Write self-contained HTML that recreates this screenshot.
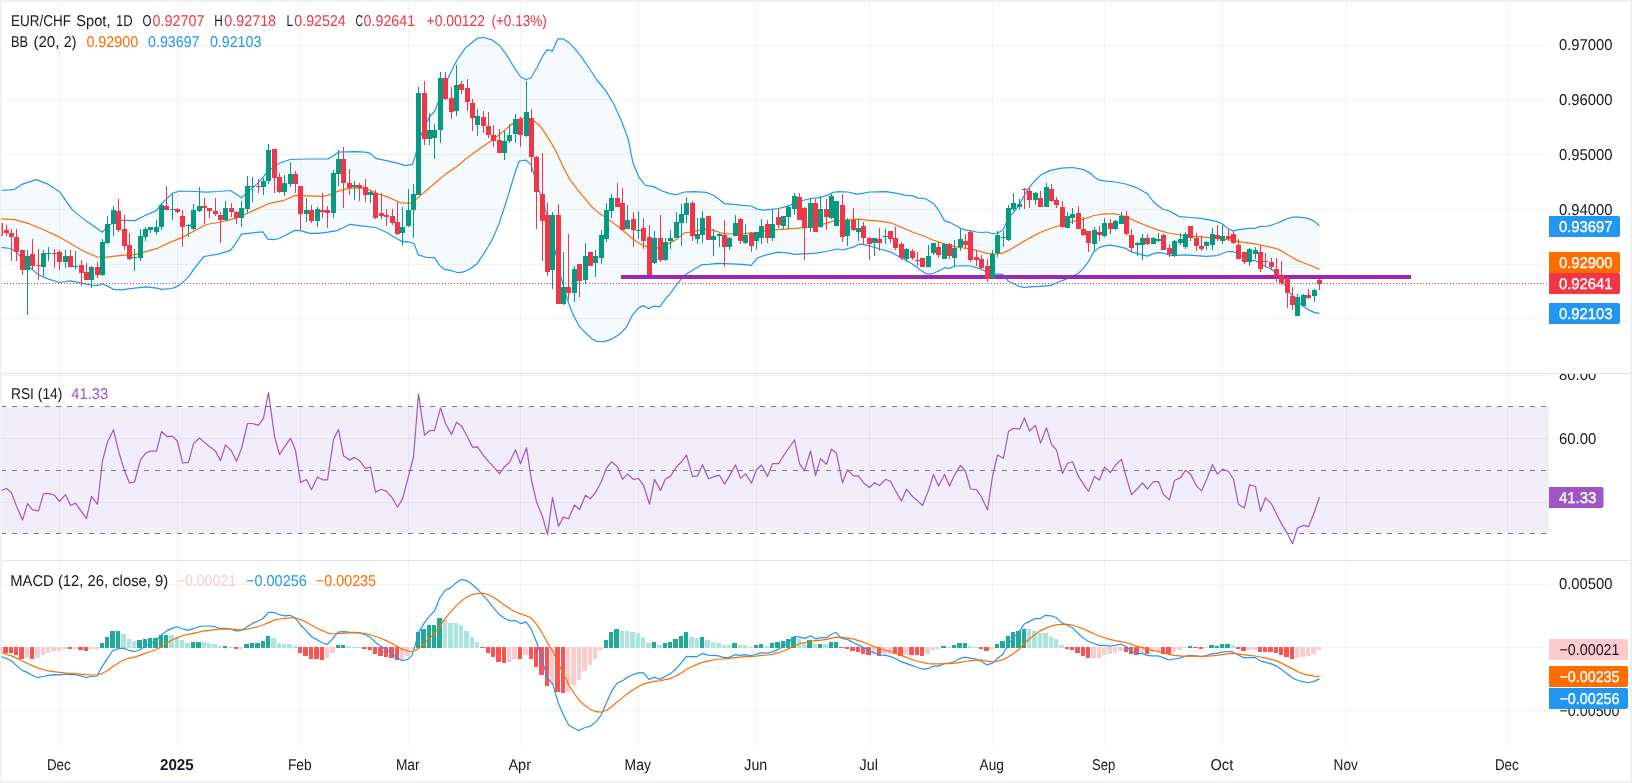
<!DOCTYPE html>
<html><head><meta charset="utf-8"><title>EUR/CHF Spot 1D</title>
<style>html,body{margin:0;padding:0;background:#fff;width:1632px;height:783px;overflow:hidden}svg text{font-family:"Liberation Sans",sans-serif}</style></head>
<body>
<svg width="1632" height="783" viewBox="0 0 1632 783" style="display:block">
<rect x="0" y="0" width="1632" height="783" fill="#ffffff"/>
<path d="M59.5 2V746.5M177.5 2V746.5M300.5 2V746.5M408.5 2V746.5M520.5 2V746.5M638.5 2V746.5M756.5 2V746.5M869.5 2V746.5M992.5 2V746.5M1104.5 2V746.5M1222.5 2V746.5M1346.5 2V746.5M1507.5 2V746.5" stroke="#2a2e39" stroke-opacity="0.06" stroke-width="1" fill="none" shape-rendering="crispEdges"/>
<path d="M1 45.5H1549M1 99.5H1549M1 154.5H1549M1 209.5H1549M1 264.5H1549M1 318.5H1549M1 375.5H1549M1 438.5H1549M1 502.5H1549M1 584.5H1549M1 647.5H1549M1 710.5H1549" stroke="#2a2e39" stroke-opacity="0.06" stroke-width="1" fill="none" shape-rendering="crispEdges"/>
<clipPath id="cp1"><rect x="1" y="2" width="1548" height="371"/></clipPath>
<g clip-path="url(#cp1)">
<path d="M1.2 190.5L14.6 189.3L21.8 184.4L36.4 179.6L48.5 184.4L59.5 191.7L72.8 210.4L85.0 220.1L97.1 228.6L102.4 232.2L108.0 226.2L116.5 220.1L134.7 220.6L145.6 215.2L156.6 210.4L161.7 203.6L172.3 193.4L179.6 191.0L194.2 191.5L206.3 192.2L218.4 191.5L230.6 190.5L236.7 194.6L241.5 197.8L247.6 192.1L257.3 183.6L268.5 170.6L273.8 166.9L279.2 163.2L290.3 159.5L306.1 159.0L328.0 159.0L333.1 155.9L338.4 152.2L354.4 151.7L365.1 152.2L370.4 153.4L375.8 158.3L386.2 160.7L397.4 163.2L405.6 165.6L412.4 164.4L415.3 155.9L418.7 141.3L424.3 126.7L429.4 117.0L434.8 111.0L440.3 96.4L445.7 83.1L451.5 71.0L457.0 60.0L465.5 47.9L472.8 41.8L477.7 38.2L483.7 37.5L492.2 39.9L499.5 45.5L506.8 55.2L514.1 67.3L520.6 77.0L526.2 79.5L531.1 77.8L537.1 67.3L543.2 55.2L547.3 49.6L552.4 51.1L557.8 38.9L563.1 38.9L568.7 42.3L574.8 48.6L582.0 57.6L589.3 68.5L596.6 79.5L606.3 91.6L613.6 103.7L620.9 119.5L628.2 138.9L633.0 163.0L639.1 177.4L645.1 185.1L654.1 186.9L661.4 190.7L669.9 193.6L676.0 194.7L684.5 192.0L694.2 191.6L706.3 192.3L713.6 195.2L718.4 198.8L724.5 203.7L733.0 204.4L742.7 205.4L751.2 206.0L757.3 209.1L764.6 210.2L778.2 208.5L788.9 205.8L800.0 201.0L811.0 198.5L821.2 197.3L828.0 194.9L832.8 192.5L837.7 191.7L847.9 192.0L857.1 194.2L863.9 193.2L869.5 192.0L886.2 191.7L895.9 193.2L905.6 195.4L912.4 195.6L917.8 198.1L925.0 198.5L933.5 203.4L938.9 210.7L944.5 220.9L949.8 222.3L955.1 225.2L960.5 228.2L965.8 230.1L971.2 230.8L976.5 232.0L981.8 232.5L987.4 232.0L992.5 233.7L997.9 233.0L1003.2 229.8L1006.4 222.4L1010.0 216.1L1013.9 212.2L1019.2 204.7L1020.0 203.4L1024.1 195.9L1029.5 187.1L1034.8 180.7L1040.1 175.6L1045.5 172.6L1051.1 170.1L1061.7 168.2L1072.4 167.5L1083.1 169.4L1090.4 173.1L1093.8 176.7L1099.1 179.9L1104.5 180.8L1115.1 182.0L1125.8 184.0L1136.5 187.6L1147.4 193.7L1152.8 201.0L1158.1 205.8L1163.4 209.5L1168.8 210.7L1174.1 213.6L1179.7 216.7L1190.4 217.5L1201.1 218.4L1211.7 220.4L1217.1 221.6L1222.7 224.0L1228.0 228.9L1233.3 230.9L1238.7 229.7L1249.4 228.4L1255.0 228.3L1260.5 226.4L1265.8 226.5L1271.3 225.2L1276.6 223.2L1281.9 221.1L1287.2 218.8L1292.7 217.1L1298.0 217.1L1303.3 217.6L1308.6 218.6L1314.1 221.1L1319.4 225.7L1319.4 313.3L1314.1 312.4L1308.6 309.9L1303.3 306.3L1298.0 301.6L1292.7 296.0L1287.2 289.7L1281.9 279.4L1276.6 273.1L1271.3 269.1L1265.8 266.7L1260.5 263.8L1255.1 260.4L1249.4 260.6L1244.0 258.1L1238.7 254.2L1233.3 251.7L1228.0 251.5L1222.7 253.2L1217.1 255.6L1206.4 256.3L1195.7 255.6L1185.0 254.9L1174.1 255.6L1168.8 254.9L1163.4 253.2L1158.1 252.7L1152.8 253.9L1147.4 256.1L1142.1 254.9L1136.5 253.2L1131.2 251.9L1125.8 248.3L1115.1 245.9L1109.8 245.1L1104.5 245.9L1099.1 247.6L1093.8 251.9L1088.4 261.7L1083.1 268.9L1077.8 273.8L1067.1 278.6L1056.4 283.0L1051.1 285.4L1040.1 286.4L1029.5 286.9L1024.1 287.5L1020.0 286.7L1013.9 283.8L1008.5 281.3L1002.7 274.4L992.5 273.8L987.4 272.6L981.8 269.4L976.5 267.7L970.7 266.0L965.8 265.8L955.1 266.0L949.8 268.4L944.5 267.7L938.9 270.9L932.3 273.8L926.3 273.8L920.2 270.1L912.4 264.1L901.5 258.0L890.6 251.9L879.9 249.0L869.5 245.9L863.9 244.7L858.8 244.2L853.4 247.1L842.5 250.0L837.2 249.0L826.5 251.5L815.8 253.2L804.9 253.9L794.5 254.4L788.9 253.2L778.2 252.2L764.6 255.4L757.3 258.0L751.2 265.4L742.7 264.4L730.6 263.9L718.4 263.4L708.7 264.4L701.5 264.9L694.2 269.2L684.5 275.3L677.2 283.8L671.1 292.3L665.0 299.6L659.7 306.8L654.1 306.1L648.5 308.5L643.2 305.6L638.3 308.1L632.3 315.3L626.2 327.5L618.9 334.8L611.7 339.1L604.4 341.6L597.1 341.3L592.2 339.1L585.0 332.3L578.9 325.8L572.8 314.1L568.7 303.2L565.5 293.3L560.7 276.0L554.6 248.8L548.5 221.7L544.4 206.0L540.8 196.0L535.9 181.2L531.1 165.2L526.2 160.2L519.4 161.0L515.3 171.8L513.5 178.0L506.2 201.7L498.9 224.2L491.7 240.7L484.4 252.8L477.1 263.7L469.8 269.1L462.5 272.2L457.7 272.7L450.4 270.3L444.3 269.3L439.5 265.4L434.6 257.6L426.1 257.3L418.3 254.9L414.0 243.5L408.1 241.7L402.7 241.9L397.4 239.0L386.2 232.3L375.8 227.5L365.1 226.3L350.0 224.3L343.7 227.5L336.9 230.6L328.0 232.1L317.8 233.3L310.0 233.3L300.5 230.6L294.7 230.4L285.7 235.2L279.4 238.5L273.3 239.7L267.9 239.1L262.8 231.8L252.4 232.8L241.5 234.2L236.7 241.9L230.6 250.4L218.4 254.1L203.9 256.5L194.2 268.6L188.3 277.1L179.6 285.1L172.3 288.5L161.7 289.3L156.6 288.1L145.6 286.8L134.7 288.1L121.4 289.8L113.3 289.3L108.0 286.4L102.4 283.7L97.1 285.6L91.5 285.1L81.3 283.2L70.4 280.8L59.5 282.5L48.5 279.1L38.3 274.7L32.5 269.9L27.4 265.0L22.3 258.9L16.5 252.1L10.9 248.5L1.2 247.3Z" fill="#2196f3" fill-opacity="0.05" stroke="none"/>
<path d="M1.2 190.5L14.6 189.3L21.8 184.4L36.4 179.6L48.5 184.4L59.5 191.7L72.8 210.4L85.0 220.1L97.1 228.6L102.4 232.2L108.0 226.2L116.5 220.1L134.7 220.6L145.6 215.2L156.6 210.4L161.7 203.6L172.3 193.4L179.6 191.0L194.2 191.5L206.3 192.2L218.4 191.5L230.6 190.5L236.7 194.6L241.5 197.8L247.6 192.1L257.3 183.6L268.5 170.6L273.8 166.9L279.2 163.2L290.3 159.5L306.1 159.0L328.0 159.0L333.1 155.9L338.4 152.2L354.4 151.7L365.1 152.2L370.4 153.4L375.8 158.3L386.2 160.7L397.4 163.2L405.6 165.6L412.4 164.4L415.3 155.9L418.7 141.3L424.3 126.7L429.4 117.0L434.8 111.0L440.3 96.4L445.7 83.1L451.5 71.0L457.0 60.0L465.5 47.9L472.8 41.8L477.7 38.2L483.7 37.5L492.2 39.9L499.5 45.5L506.8 55.2L514.1 67.3L520.6 77.0L526.2 79.5L531.1 77.8L537.1 67.3L543.2 55.2L547.3 49.6L552.4 51.1L557.8 38.9L563.1 38.9L568.7 42.3L574.8 48.6L582.0 57.6L589.3 68.5L596.6 79.5L606.3 91.6L613.6 103.7L620.9 119.5L628.2 138.9L633.0 163.0L639.1 177.4L645.1 185.1L654.1 186.9L661.4 190.7L669.9 193.6L676.0 194.7L684.5 192.0L694.2 191.6L706.3 192.3L713.6 195.2L718.4 198.8L724.5 203.7L733.0 204.4L742.7 205.4L751.2 206.0L757.3 209.1L764.6 210.2L778.2 208.5L788.9 205.8L800.0 201.0L811.0 198.5L821.2 197.3L828.0 194.9L832.8 192.5L837.7 191.7L847.9 192.0L857.1 194.2L863.9 193.2L869.5 192.0L886.2 191.7L895.9 193.2L905.6 195.4L912.4 195.6L917.8 198.1L925.0 198.5L933.5 203.4L938.9 210.7L944.5 220.9L949.8 222.3L955.1 225.2L960.5 228.2L965.8 230.1L971.2 230.8L976.5 232.0L981.8 232.5L987.4 232.0L992.5 233.7L997.9 233.0L1003.2 229.8L1006.4 222.4L1010.0 216.1L1013.9 212.2L1019.2 204.7L1020.0 203.4L1024.1 195.9L1029.5 187.1L1034.8 180.7L1040.1 175.6L1045.5 172.6L1051.1 170.1L1061.7 168.2L1072.4 167.5L1083.1 169.4L1090.4 173.1L1093.8 176.7L1099.1 179.9L1104.5 180.8L1115.1 182.0L1125.8 184.0L1136.5 187.6L1147.4 193.7L1152.8 201.0L1158.1 205.8L1163.4 209.5L1168.8 210.7L1174.1 213.6L1179.7 216.7L1190.4 217.5L1201.1 218.4L1211.7 220.4L1217.1 221.6L1222.7 224.0L1228.0 228.9L1233.3 230.9L1238.7 229.7L1249.4 228.4L1255.0 228.3L1260.5 226.4L1265.8 226.5L1271.3 225.2L1276.6 223.2L1281.9 221.1L1287.2 218.8L1292.7 217.1L1298.0 217.1L1303.3 217.6L1308.6 218.6L1314.1 221.1L1319.4 225.7" fill="none" stroke="#2196f3" stroke-width="1.2" stroke-linejoin="round"/>
<path d="M1.2 247.3L10.9 248.5L16.5 252.1L22.3 258.9L27.4 265.0L32.5 269.9L38.3 274.7L48.5 279.1L59.5 282.5L70.4 280.8L81.3 283.2L91.5 285.1L97.1 285.6L102.4 283.7L108.0 286.4L113.3 289.3L121.4 289.8L134.7 288.1L145.6 286.8L156.6 288.1L161.7 289.3L172.3 288.5L179.6 285.1L188.3 277.1L194.2 268.6L203.9 256.5L218.4 254.1L230.6 250.4L236.7 241.9L241.5 234.2L252.4 232.8L262.8 231.8L267.9 239.1L273.3 239.7L279.4 238.5L285.7 235.2L294.7 230.4L300.5 230.6L310.0 233.3L317.8 233.3L328.0 232.1L336.9 230.6L343.7 227.5L350.0 224.3L365.1 226.3L375.8 227.5L386.2 232.3L397.4 239.0L402.7 241.9L408.1 241.7L414.0 243.5L418.3 254.9L426.1 257.3L434.6 257.6L439.5 265.4L444.3 269.3L450.4 270.3L457.7 272.7L462.5 272.2L469.8 269.1L477.1 263.7L484.4 252.8L491.7 240.7L498.9 224.2L506.2 201.7L513.5 178.0L515.3 171.8L519.4 161.0L526.2 160.2L531.1 165.2L535.9 181.2L540.8 196.0L544.4 206.0L548.5 221.7L554.6 248.8L560.7 276.0L565.5 293.3L568.7 303.2L572.8 314.1L578.9 325.8L585.0 332.3L592.2 339.1L597.1 341.3L604.4 341.6L611.7 339.1L618.9 334.8L626.2 327.5L632.3 315.3L638.3 308.1L643.2 305.6L648.5 308.5L654.1 306.1L659.7 306.8L665.0 299.6L671.1 292.3L677.2 283.8L684.5 275.3L694.2 269.2L701.5 264.9L708.7 264.4L718.4 263.4L730.6 263.9L742.7 264.4L751.2 265.4L757.3 258.0L764.6 255.4L778.2 252.2L788.9 253.2L794.5 254.4L804.9 253.9L815.8 253.2L826.5 251.5L837.2 249.0L842.5 250.0L853.4 247.1L858.8 244.2L863.9 244.7L869.5 245.9L879.9 249.0L890.6 251.9L901.5 258.0L912.4 264.1L920.2 270.1L926.3 273.8L932.3 273.8L938.9 270.9L944.5 267.7L949.8 268.4L955.1 266.0L965.8 265.8L970.7 266.0L976.5 267.7L981.8 269.4L987.4 272.6L992.5 273.8L1002.7 274.4L1008.5 281.3L1013.9 283.8L1020.0 286.7L1024.1 287.5L1029.5 286.9L1040.1 286.4L1051.1 285.4L1056.4 283.0L1067.1 278.6L1077.8 273.8L1083.1 268.9L1088.4 261.7L1093.8 251.9L1099.1 247.6L1104.5 245.9L1109.8 245.1L1115.1 245.9L1125.8 248.3L1131.2 251.9L1136.5 253.2L1142.1 254.9L1147.4 256.1L1152.8 253.9L1158.1 252.7L1163.4 253.2L1168.8 254.9L1174.1 255.6L1185.0 254.9L1195.7 255.6L1206.4 256.3L1217.1 255.6L1222.7 253.2L1228.0 251.5L1233.3 251.7L1238.7 254.2L1244.0 258.1L1249.4 260.6L1255.1 260.4L1260.5 263.8L1265.8 266.7L1271.3 269.1L1276.6 273.1L1281.9 279.4L1287.2 289.7L1292.7 296.0L1298.0 301.6L1303.3 306.3L1308.6 309.9L1314.1 312.4L1319.4 313.3" fill="none" stroke="#2196f3" stroke-width="1.2" stroke-linejoin="round"/>
<path d="M1.2 218.9L14.6 219.6L29.1 223.7L43.7 229.8L59.5 237.1L72.8 244.9L85.0 251.7L97.1 257.0L106.8 257.2L121.4 255.3L134.7 254.6L145.6 251.7L156.6 248.7L169.9 242.4L182.0 237.6L194.2 231.0L206.3 224.5L218.4 222.5L230.6 219.6L242.7 215.2L254.9 209.9L268.5 203.7L284.3 200.3L295.4 195.4L306.1 195.9L322.4 196.4L328.0 195.4L338.4 191.1L349.1 188.2L359.8 187.9L366.8 188.6L375.8 193.0L386.2 196.4L397.4 201.3L402.7 203.2L410.5 203.2L416.6 198.8L424.3 192.3L434.8 183.3L445.7 174.1L456.6 166.8L467.3 157.8L477.7 150.3L488.6 142.5L499.3 134.8L509.8 126.0L515.3 121.2L520.6 118.3L526.2 117.8L532.3 119.5L540.8 126.8L548.1 137.7L555.3 149.9L562.6 165.6L569.9 179.7L579.6 192.4L592.2 207.2L599.5 213.4L606.8 218.3L614.1 223.6L621.4 229.2L628.6 235.2L635.9 241.3L643.2 245.4L648.5 247.4L657.8 247.9L665.0 245.0L671.1 242.5L677.2 238.9L684.5 232.8L691.7 232.1L699.0 230.4L706.3 229.2L713.6 230.4L720.9 232.8L728.2 234.0L735.4 233.5L742.7 234.0L750.0 232.9L757.3 232.5L764.6 230.7L772.9 229.8L788.9 228.9L804.9 227.7L815.8 225.7L826.5 223.3L832.8 221.1L842.5 220.4L853.4 219.7L858.8 219.2L869.5 220.4L879.9 221.1L890.6 222.8L901.5 227.2L912.4 232.0L922.9 235.7L933.5 240.3L944.5 243.9L955.1 246.6L965.8 248.3L976.5 250.2L987.4 253.6L997.9 253.9L1003.2 252.9L1008.5 250.4L1013.9 247.2L1019.2 244.3L1020.0 243.8L1029.5 238.1L1040.1 232.5L1051.1 228.2L1061.7 224.8L1072.4 221.6L1083.1 219.2L1088.4 217.5L1093.8 215.5L1104.5 213.8L1115.1 213.8L1120.5 215.0L1125.8 216.7L1131.2 219.2L1136.5 221.6L1147.4 226.0L1158.1 230.1L1168.8 233.0L1179.7 235.0L1190.4 236.2L1201.1 236.9L1211.7 237.9L1222.7 239.1L1233.3 240.6L1244.0 242.4L1255.1 243.8L1260.5 245.0L1265.8 246.1L1271.3 247.3L1276.6 248.7L1281.9 251.1L1287.2 254.5L1292.7 257.8L1298.0 260.6L1303.3 262.8L1308.6 264.8L1314.1 266.8L1319.4 269.4" fill="none" stroke="#ff6d00" stroke-width="1.2" stroke-linejoin="round"/>
<rect x="621" y="275" width="790" height="4" fill="#9c27b0"/>
<path d="M25 256h5v14h-5zM27 250h1v6h-1zM27 270h1v45h-1zM41 253h5v14h-5zM43 250h1v3h-1zM43 267h1v9h-1zM46 253h5v1h-5zM48 247h1v6h-1zM48 254h1v7h-1zM63 256h5v6h-5zM65 250h1v6h-1zM65 262h1v6h-1zM73 266h5v1h-5zM75 251h1v15h-1zM75 267h1v2h-1zM89 267h5v13h-5zM91 266h1v1h-1zM91 280h1v8h-1zM100 242h5v33h-5zM102 239h1v3h-1zM102 275h1v1h-1zM105 224h5v19h-5zM107 216h1v8h-1zM107 243h1v1h-1zM111 210h5v14h-5zM113 206h1v4h-1zM113 224h1v12h-1zM132 257h5v1h-5zM134 249h1v8h-1zM134 258h1v13h-1zM138 236h5v22h-5zM140 229h1v7h-1zM140 258h1v3h-1zM143 229h5v8h-5zM145 227h1v2h-1zM145 237h1v4h-1zM148 227h5v3h-5zM150 230h1v3h-1zM154 227h5v5h-5zM156 220h1v7h-1zM156 232h1v3h-1zM159 205h5v22h-5zM161 203h1v2h-1zM161 227h1v3h-1zM170 209h5v1h-5zM172 194h1v15h-1zM172 210h1v10h-1zM186 225h5v1h-5zM188 224h1v1h-1zM188 226h1v11h-1zM191 210h5v19h-5zM193 204h1v6h-1zM193 229h1v1h-1zM197 206h5v5h-5zM199 187h1v19h-1zM199 211h1v1h-1zM223 208h5v12h-5zM225 201h1v7h-1zM225 220h1v1h-1zM239 208h5v10h-5zM241 201h1v7h-1zM241 218h1v9h-1zM245 186h5v23h-5zM247 176h1v10h-1zM247 209h1v4h-1zM250 186h5v1h-5zM252 177h1v9h-1zM252 187h1v15h-1zM261 181h5v6h-5zM263 178h1v3h-1zM263 187h1v8h-1zM266 150h5v31h-5zM268 144h1v6h-1zM268 181h1v3h-1zM282 183h5v9h-5zM284 175h1v8h-1zM284 192h1v4h-1zM288 174h5v10h-5zM290 162h1v12h-1zM290 184h1v3h-1zM304 210h5v4h-5zM306 198h1v12h-1zM306 214h1v8h-1zM315 209h5v12h-5zM317 207h1v2h-1zM317 221h1v6h-1zM331 173h5v40h-5zM333 170h1v3h-1zM333 213h1v5h-1zM336 159h5v15h-5zM338 150h1v9h-1zM338 174h1v12h-1zM352 185h5v2h-5zM354 181h1v4h-1zM354 187h1v13h-1zM368 192h5v3h-5zM370 190h1v2h-1zM370 195h1v8h-1zM400 227h5v6h-5zM402 207h1v20h-1zM402 233h1v13h-1zM406 210h5v16h-5zM408 189h1v21h-1zM408 226h1v1h-1zM411 194h5v16h-5zM413 184h1v10h-1zM413 210h1v28h-1zM416 93h5v102h-5zM418 87h1v6h-1zM427 130h5v9h-5zM429 113h1v17h-1zM429 139h1v6h-1zM432 130h5v8h-5zM434 124h1v6h-1zM434 138h1v21h-1zM438 78h5v52h-5zM440 72h1v6h-1zM440 130h1v13h-1zM454 85h5v26h-5zM456 65h1v20h-1zM456 111h1v5h-1zM475 116h5v9h-5zM477 109h1v7h-1zM477 125h1v11h-1zM502 141h5v12h-5zM504 131h1v10h-1zM504 153h1v7h-1zM507 135h5v6h-5zM509 124h1v11h-1zM509 141h1v2h-1zM513 119h5v15h-5zM515 114h1v5h-1zM515 134h1v9h-1zM524 112h5v24h-5zM526 81h1v31h-1zM526 136h1v1h-1zM550 215h5v55h-5zM552 212h1v3h-1zM552 270h1v19h-1zM561 287h5v17h-5zM563 252h1v35h-1zM563 304h1v1h-1zM572 269h5v24h-5zM574 266h1v3h-1zM574 293h1v9h-1zM583 256h5v24h-5zM585 243h1v13h-1zM585 280h1v4h-1zM593 256h5v7h-5zM595 250h1v6h-1zM595 263h1v14h-1zM599 235h5v23h-5zM601 230h1v5h-1zM601 258h1v6h-1zM604 210h5v29h-5zM606 203h1v7h-1zM606 239h1v3h-1zM609 198h5v13h-5zM611 194h1v4h-1zM611 211h1v7h-1zM625 220h5v9h-5zM627 205h1v15h-1zM636 230h5v1h-5zM638 211h1v19h-1zM638 231h1v8h-1zM652 238h5v25h-5zM654 231h1v7h-1zM654 263h1v1h-1zM663 242h5v18h-5zM665 238h1v4h-1zM665 260h1v1h-1zM668 238h5v3h-5zM670 230h1v8h-1zM670 241h1v8h-1zM674 222h5v16h-5zM676 212h1v10h-1zM679 214h5v9h-5zM681 204h1v10h-1zM681 223h1v23h-1zM684 203h5v12h-5zM686 197h1v6h-1zM686 215h1v8h-1zM695 234h5v5h-5zM697 218h1v16h-1zM697 239h1v5h-1zM700 218h5v17h-5zM702 211h1v7h-1zM702 235h1v8h-1zM711 236h5v4h-5zM713 229h1v7h-1zM713 240h1v16h-1zM717 234h5v2h-5zM719 233h1v1h-1zM719 236h1v11h-1zM727 238h5v9h-5zM729 237h1v1h-1zM729 247h1v3h-1zM733 223h5v13h-5zM735 215h1v8h-1zM743 235h5v8h-5zM745 224h1v11h-1zM745 243h1v1h-1zM754 232h5v9h-5zM756 241h1v8h-1zM759 226h5v12h-5zM761 219h1v7h-1zM761 238h1v6h-1zM770 224h5v14h-5zM772 209h1v15h-1zM772 238h1v3h-1zM781 216h5v10h-5zM783 226h1v3h-1zM786 207h5v10h-5zM788 205h1v2h-1zM788 217h1v12h-1zM792 196h5v13h-5zM794 193h1v3h-1zM794 209h1v6h-1zM808 203h5v25h-5zM810 198h1v5h-1zM810 228h1v4h-1zM818 209h5v18h-5zM820 196h1v13h-1zM820 227h1v1h-1zM829 196h5v22h-5zM831 194h1v2h-1zM831 218h1v1h-1zM834 201h5v25h-5zM845 220h5v16h-5zM847 218h1v2h-1zM847 236h1v10h-1zM856 228h5v4h-5zM858 219h1v9h-1zM858 232h1v9h-1zM872 238h5v5h-5zM874 243h1v13h-1zM883 236h5v1h-5zM885 229h1v7h-1zM885 237h1v7h-1zM904 249h5v10h-5zM906 248h1v1h-1zM906 259h1v3h-1zM926 256h5v11h-5zM928 245h1v11h-1zM931 243h5v10h-5zM933 253h1v2h-1zM942 244h5v15h-5zM944 243h1v1h-1zM952 248h5v10h-5zM954 240h1v8h-1zM954 258h1v9h-1zM958 239h5v8h-5zM960 229h1v10h-1zM960 247h1v4h-1zM990 254h5v24h-5zM992 250h1v4h-1zM992 278h1v1h-1zM995 235h5v18h-5zM997 231h1v4h-1zM997 253h1v4h-1zM1001 237h5v1h-5zM1003 231h1v6h-1zM1003 238h1v9h-1zM1006 208h5v32h-5zM1008 205h1v3h-1zM1008 240h1v1h-1zM1011 203h5v6h-5zM1013 193h1v10h-1zM1013 209h1v2h-1zM1017 204h5v3h-5zM1019 199h1v5h-1zM1019 207h1v3h-1zM1033 193h5v7h-5zM1035 192h1v1h-1zM1035 200h1v5h-1zM1044 187h5v20h-5zM1046 183h1v4h-1zM1065 216h5v12h-5zM1067 212h1v4h-1zM1070 214h5v4h-5zM1072 208h1v6h-1zM1072 218h1v6h-1zM1092 230h5v14h-5zM1094 227h1v3h-1zM1094 244h1v7h-1zM1102 223h5v13h-5zM1104 218h1v5h-1zM1104 236h1v1h-1zM1113 221h5v8h-5zM1115 220h1v1h-1zM1115 229h1v1h-1zM1119 216h5v8h-5zM1121 212h1v4h-1zM1135 243h5v2h-5zM1137 242h1v1h-1zM1137 245h1v11h-1zM1140 238h5v7h-5zM1142 234h1v4h-1zM1142 245h1v15h-1zM1151 238h5v6h-5zM1153 237h1v1h-1zM1156 239h5v2h-5zM1158 233h1v6h-1zM1158 241h1v1h-1zM1172 241h5v15h-5zM1174 240h1v1h-1zM1174 256h1v1h-1zM1178 239h5v4h-5zM1180 233h1v6h-1zM1180 243h1v2h-1zM1183 234h5v13h-5zM1185 232h1v2h-1zM1185 247h1v2h-1zM1204 242h5v4h-5zM1206 241h1v1h-1zM1206 246h1v4h-1zM1210 234h5v11h-5zM1212 228h1v6h-1zM1212 245h1v5h-1zM1220 236h5v5h-5zM1222 225h1v11h-1zM1222 241h1v3h-1zM1247 249h5v13h-5zM1249 248h1v1h-1zM1249 262h1v4h-1zM1253 250h5v4h-5zM1255 247h1v3h-1zM1255 254h1v5h-1zM1295 297h5v19h-5zM1297 294h1v3h-1zM1301 295h5v11h-5zM1303 294h1v1h-1zM1312 290h5v6h-5zM1314 289h1v1h-1zM1314 296h1v6h-1z" fill="#089981" shape-rendering="crispEdges"/>
<path d="M-2 223h5v13h-5zM4 230h5v3h-5zM6 225h1v5h-1zM6 233h1v3h-1zM9 233h5v4h-5zM11 229h1v4h-1zM11 237h1v24h-1zM14 237h5v15h-5zM16 229h1v8h-1zM16 252h1v9h-1zM20 250h5v20h-5zM22 270h1v5h-1zM30 254h5v12h-5zM32 239h1v15h-1zM32 266h1v4h-1zM36 265h5v1h-5zM38 249h1v16h-1zM38 266h1v14h-1zM52 253h5v1h-5zM54 249h1v4h-1zM54 254h1v14h-1zM57 252h5v10h-5zM59 250h1v2h-1zM59 262h1v8h-1zM68 256h5v11h-5zM70 250h1v6h-1zM79 265h5v8h-5zM81 260h1v5h-1zM81 273h1v13h-1zM84 272h5v8h-5zM86 263h1v9h-1zM95 267h5v8h-5zM97 262h1v5h-1zM97 275h1v3h-1zM116 211h5v19h-5zM118 199h1v12h-1zM118 230h1v2h-1zM122 229h5v17h-5zM124 215h1v14h-1zM124 246h1v4h-1zM127 245h5v14h-5zM129 233h1v12h-1zM129 259h1v1h-1zM164 206h5v4h-5zM166 186h1v20h-1zM175 209h5v3h-5zM177 208h1v1h-1zM177 212h1v1h-1zM180 216h5v11h-5zM182 210h1v6h-1zM182 227h1v20h-1zM202 206h5v2h-5zM204 198h1v8h-1zM204 208h1v16h-1zM207 208h5v3h-5zM209 211h1v7h-1zM213 211h5v3h-5zM215 198h1v13h-1zM215 214h1v2h-1zM218 215h5v5h-5zM220 212h1v3h-1zM220 220h1v23h-1zM229 208h5v4h-5zM231 203h1v5h-1zM231 212h1v5h-1zM234 212h5v6h-5zM236 211h1v1h-1zM236 218h1v6h-1zM256 186h5v1h-5zM258 179h1v7h-1zM258 187h1v6h-1zM272 149h5v29h-5zM274 178h1v15h-1zM277 177h5v15h-5zM279 173h1v4h-1zM279 192h1v1h-1zM293 174h5v10h-5zM295 171h1v3h-1zM295 184h1v9h-1zM298 186h5v28h-5zM300 214h1v16h-1zM309 210h5v11h-5zM311 205h1v5h-1zM311 221h1v2h-1zM320 210h5v2h-5zM322 193h1v17h-1zM322 212h1v6h-1zM325 210h5v3h-5zM327 206h1v4h-1zM327 213h1v15h-1zM341 159h5v24h-5zM343 147h1v12h-1zM343 183h1v25h-1zM347 183h5v5h-5zM349 169h1v14h-1zM349 188h1v7h-1zM357 185h5v3h-5zM359 183h1v2h-1zM359 188h1v13h-1zM363 187h5v8h-5zM365 179h1v8h-1zM365 195h1v7h-1zM373 193h5v25h-5zM375 190h1v3h-1zM375 218h1v1h-1zM379 213h5v3h-5zM381 193h1v20h-1zM381 216h1v3h-1zM384 215h5v2h-5zM386 209h1v6h-1zM386 217h1v9h-1zM390 216h5v7h-5zM392 209h1v7h-1zM392 223h1v2h-1zM395 222h5v12h-5zM397 201h1v21h-1zM397 234h1v1h-1zM422 93h5v46h-5zM424 81h1v12h-1zM424 139h1v6h-1zM443 78h5v21h-5zM445 72h1v6h-1zM445 99h1v1h-1zM449 98h5v14h-5zM451 87h1v11h-1zM451 112h1v7h-1zM459 84h5v6h-5zM461 81h1v3h-1zM461 90h1v4h-1zM465 88h5v14h-5zM467 79h1v9h-1zM467 102h1v9h-1zM470 103h5v15h-5zM472 99h1v4h-1zM472 118h1v13h-1zM481 117h5v9h-5zM483 111h1v6h-1zM483 126h1v7h-1zM486 126h5v9h-5zM488 112h1v14h-1zM488 135h1v3h-1zM491 135h5v6h-5zM493 125h1v10h-1zM493 141h1v6h-1zM497 140h5v13h-5zM499 129h1v11h-1zM518 119h5v16h-5zM520 117h1v2h-1zM520 135h1v12h-1zM529 118h5v39h-5zM531 109h1v9h-1zM531 157h1v15h-1zM534 157h5v35h-5zM536 156h1v1h-1zM536 192h1v37h-1zM540 194h5v27h-5zM542 153h1v41h-1zM542 221h1v40h-1zM545 215h5v57h-5zM547 203h1v12h-1zM547 272h1v4h-1zM556 215h5v89h-5zM558 204h1v11h-1zM566 287h5v6h-5zM568 234h1v53h-1zM568 293h1v7h-1zM577 264h5v17h-5zM579 281h1v16h-1zM588 252h5v14h-5zM615 198h5v9h-5zM617 183h1v15h-1zM620 203h5v27h-5zM622 188h1v15h-1zM631 219h5v11h-5zM633 212h1v7h-1zM633 230h1v17h-1zM641 228h5v13h-5zM643 218h1v10h-1zM643 241h1v8h-1zM647 237h5v38h-5zM649 225h1v12h-1zM658 238h5v22h-5zM660 215h1v23h-1zM660 260h1v2h-1zM690 203h5v33h-5zM692 201h1v2h-1zM692 236h1v5h-1zM706 216h5v24h-5zM722 235h5v12h-5zM724 220h1v15h-1zM724 247h1v20h-1zM738 219h5v22h-5zM740 218h1v1h-1zM740 241h1v3h-1zM749 233h5v13h-5zM751 232h1v1h-1zM751 246h1v6h-1zM765 224h5v14h-5zM767 220h1v4h-1zM767 238h1v5h-1zM776 217h5v8h-5zM778 209h1v8h-1zM778 225h1v3h-1zM797 197h5v23h-5zM799 193h1v4h-1zM802 208h5v20h-5zM804 207h1v1h-1zM804 228h1v32h-1zM813 203h5v29h-5zM815 199h1v4h-1zM824 209h5v8h-5zM826 199h1v10h-1zM826 217h1v13h-1zM840 205h5v32h-5zM842 194h1v11h-1zM842 237h1v5h-1zM851 220h5v10h-5zM853 208h1v12h-1zM853 230h1v1h-1zM861 226h5v12h-5zM863 222h1v4h-1zM863 238h1v7h-1zM867 238h5v6h-5zM869 237h1v1h-1zM869 244h1v16h-1zM877 239h5v4h-5zM879 228h1v11h-1zM879 243h1v8h-1zM888 231h5v8h-5zM890 239h1v4h-1zM893 238h5v10h-5zM895 227h1v11h-1zM895 248h1v2h-1zM899 244h5v14h-5zM901 242h1v2h-1zM901 258h1v2h-1zM910 251h5v7h-5zM912 249h1v2h-1zM912 258h1v2h-1zM915 260h5v1h-5zM917 252h1v8h-1zM917 261h1v5h-1zM920 258h5v9h-5zM936 247h5v8h-5zM938 242h1v5h-1zM938 255h1v3h-1zM947 244h5v12h-5zM949 243h1v1h-1zM949 256h1v3h-1zM963 241h5v4h-5zM965 234h1v7h-1zM965 245h1v3h-1zM968 232h5v28h-5zM970 230h1v2h-1zM970 260h1v2h-1zM974 257h5v3h-5zM976 250h1v7h-1zM976 260h1v6h-1zM979 259h5v9h-5zM981 255h1v4h-1zM981 268h1v1h-1zM985 266h5v13h-5zM987 259h1v7h-1zM987 279h1v3h-1zM1022 189h5v1h-5zM1024 188h1v1h-1zM1024 190h1v19h-1zM1027 191h5v9h-5zM1029 187h1v4h-1zM1029 200h1v8h-1zM1038 198h5v9h-5zM1040 191h1v7h-1zM1049 189h5v12h-5zM1051 184h1v5h-1zM1051 201h1v1h-1zM1054 200h5v5h-5zM1056 197h1v3h-1zM1056 205h1v3h-1zM1060 207h5v20h-5zM1062 201h1v6h-1zM1062 227h1v1h-1zM1076 213h5v16h-5zM1078 206h1v7h-1zM1081 229h5v6h-5zM1083 217h1v12h-1zM1083 235h1v1h-1zM1086 231h5v12h-5zM1088 243h1v9h-1zM1097 232h5v3h-5zM1099 226h1v6h-1zM1099 235h1v6h-1zM1108 223h5v6h-5zM1110 219h1v4h-1zM1110 229h1v5h-1zM1124 216h5v18h-5zM1126 211h1v5h-1zM1126 234h1v1h-1zM1129 235h5v13h-5zM1131 229h1v6h-1zM1131 248h1v4h-1zM1145 238h5v6h-5zM1147 234h1v4h-1zM1147 244h1v1h-1zM1161 235h5v15h-5zM1163 234h1v1h-1zM1167 248h5v6h-5zM1169 244h1v4h-1zM1169 254h1v3h-1zM1188 226h5v12h-5zM1190 238h1v3h-1zM1194 238h5v8h-5zM1196 233h1v5h-1zM1196 246h1v5h-1zM1199 246h5v3h-5zM1201 236h1v10h-1zM1201 249h1v2h-1zM1215 235h5v4h-5zM1217 225h1v10h-1zM1217 239h1v2h-1zM1226 236h5v3h-5zM1228 229h1v7h-1zM1228 239h1v1h-1zM1231 234h5v9h-5zM1233 231h1v3h-1zM1233 243h1v1h-1zM1236 245h5v14h-5zM1238 239h1v6h-1zM1242 252h5v10h-5zM1244 262h1v2h-1zM1258 252h5v17h-5zM1260 245h1v7h-1zM1260 269h1v3h-1zM1263 261h5v1h-5zM1265 253h1v8h-1zM1265 262h1v5h-1zM1269 262h5v5h-5zM1271 258h1v4h-1zM1271 267h1v3h-1zM1274 269h5v7h-5zM1276 258h1v11h-1zM1276 276h1v6h-1zM1279 276h5v7h-5zM1281 261h1v15h-1zM1281 283h1v2h-1zM1285 278h5v15h-5zM1287 293h1v15h-1zM1290 296h5v9h-5zM1292 287h1v9h-1zM1292 305h1v5h-1zM1306 295h5v3h-5zM1308 289h1v6h-1zM1308 298h1v1h-1zM1317 280h5v4h-5zM1319 279h1v1h-1zM1319 284h1v6h-1z" fill="#f23645" shape-rendering="crispEdges"/>
<path d="M1 283.5H1549" stroke="#f23645" stroke-width="1" stroke-dasharray="1 2" fill="none" shape-rendering="crispEdges"/>
</g>
<rect x="2" y="406.5" width="1547" height="127" fill="#7e57c2" fill-opacity="0.1"/>
<path d="M2 406.5H1549" stroke="#787b86" stroke-width="1" stroke-dasharray="5 6" stroke-dashoffset="1" fill="none" shape-rendering="crispEdges"/>
<path d="M2 470.5H1549" stroke="#787b86" stroke-width="1" stroke-dasharray="5 6" stroke-dashoffset="1" fill="none" shape-rendering="crispEdges"/>
<path d="M2 533.5H1549" stroke="#787b86" stroke-width="1" stroke-dasharray="5 6" stroke-dashoffset="1" fill="none" shape-rendering="crispEdges"/>
<clipPath id="cp2"><rect x="1" y="374" width="1548" height="186"/></clipPath>
<path clip-path="url(#cp2)" d="M0.5 490.9L6.5 488.5L11.5 492.9L16.5 506.2L22.5 520.1L27.5 503.6L32.5 509.9L38.5 510.8L43.5 493.8L48.5 493.4L54.5 495.3L59.5 501.4L65.5 494.6L70.5 505.5L75.5 503.1L81.5 511.6L86.5 518.6L91.5 496.3L97.5 504.3L102.5 460.6L107.5 441.9L113.5 429.8L118.5 450.9L124.5 470.8L129.5 482.9L134.5 482.0L140.5 459.9L145.5 453.3L150.5 451.1L156.5 451.1L161.5 431.5L166.5 436.3L172.5 436.3L177.5 441.2L182.5 463.0L188.5 462.3L193.5 443.6L199.5 438.0L204.5 442.4L209.5 446.5L215.5 451.1L220.5 460.6L225.5 444.8L231.5 450.9L236.5 461.3L241.5 448.5L247.5 423.5L252.5 423.5L258.5 425.4L263.5 418.1L268.5 392.6L274.5 436.3L279.5 454.5L284.5 446.8L290.5 438.3L295.5 450.2L300.5 482.4L306.5 479.5L311.5 489.7L317.5 476.9L322.5 479.8L327.5 479.8L333.5 439.5L338.5 429.5L343.5 455.7L349.5 460.1L354.5 457.4L359.5 460.6L365.5 468.4L370.5 467.1L375.5 492.1L381.5 489.2L386.5 491.4L392.5 498.2L397.5 507.2L402.5 498.9L408.5 476.4L413.5 457.0L418.5 393.8L424.5 435.1L429.5 430.7L434.5 430.3L440.5 407.9L445.5 423.5L451.5 434.4L456.5 422.2L461.5 425.9L467.5 437.0L472.5 447.2L477.5 446.8L483.5 455.7L488.5 461.3L493.5 466.7L499.5 473.9L504.5 466.7L509.5 462.3L515.5 449.7L520.5 463.7L526.5 447.7L531.5 480.0L536.5 501.9L542.5 516.4L547.5 534.6L552.5 497.7L558.5 526.1L563.5 517.1L568.5 518.8L574.5 505.0L579.5 509.6L585.5 495.3L590.5 498.7L595.5 492.6L601.5 481.2L606.5 467.9L611.5 461.8L617.5 466.7L622.5 479.3L627.5 473.9L633.5 479.5L638.5 478.3L643.5 485.3L649.5 504.3L654.5 479.3L660.5 490.4L665.5 478.8L670.5 476.4L676.5 466.7L681.5 461.8L686.5 455.0L692.5 476.4L697.5 475.9L702.5 464.7L708.5 478.8L713.5 476.9L719.5 475.2L724.5 484.1L729.5 475.9L735.5 465.0L740.5 478.1L745.5 473.9L751.5 483.2L756.5 469.8L761.5 465.0L767.5 476.4L772.5 463.7L778.5 463.7L783.5 455.7L788.5 448.5L794.5 440.0L799.5 463.7L804.5 470.8L810.5 450.9L815.5 475.6L820.5 458.7L826.5 464.2L831.5 449.2L836.5 453.3L842.5 482.9L847.5 469.8L853.5 475.9L858.5 475.9L863.5 482.9L869.5 487.5L874.5 482.7L879.5 485.6L885.5 479.3L890.5 481.2L895.5 490.9L901.5 501.1L906.5 489.2L912.5 496.5L917.5 500.6L922.5 505.5L928.5 490.4L933.5 474.4L938.5 486.1L944.5 474.4L949.5 486.1L954.5 475.2L960.5 465.4L965.5 471.5L970.5 489.0L976.5 489.7L981.5 497.0L987.5 509.9L992.5 476.4L997.5 455.0L1003.5 458.2L1008.5 431.5L1013.5 428.3L1019.5 429.0L1024.5 418.1L1029.5 431.0L1035.5 425.4L1040.5 443.1L1046.5 427.8L1051.5 444.3L1056.5 450.2L1062.5 473.5L1067.5 463.3L1072.5 461.8L1078.5 476.4L1083.5 484.1L1088.5 491.4L1094.5 476.4L1099.5 480.0L1104.5 467.1L1110.5 472.5L1115.5 465.0L1121.5 459.4L1126.5 478.1L1131.5 494.6L1137.5 488.5L1142.5 482.9L1147.5 489.0L1153.5 481.5L1158.5 481.7L1163.5 494.6L1169.5 499.7L1174.5 480.5L1180.5 477.6L1185.5 470.3L1190.5 473.9L1196.5 486.1L1201.5 490.9L1206.5 479.5L1212.5 464.7L1217.5 474.2L1222.5 469.1L1228.5 471.5L1233.5 479.3L1238.5 504.5L1244.5 507.9L1249.5 484.8L1255.5 486.5L1260.5 511.4L1265.5 497.8L1271.5 503.9L1276.5 513.9L1281.5 523.9L1287.5 533.8L1292.5 543.8L1297.5 528.0L1303.5 525.4L1308.5 526.7L1314.5 511.7L1319.5 497.0" fill="none" stroke="#9f56c4" stroke-width="1.2" stroke-linejoin="round"/>
<clipPath id="cp3"><rect x="1" y="561" width="1548" height="186"/></clipPath>
<g clip-path="url(#cp3)">
<path d="M100 643h4v5h-4zM105 637h4v11h-4zM110 631h5v17h-5zM116 631h4v17h-4zM137 640h5v8h-5zM143 639h4v9h-4zM148 638h4v10h-4zM153 638h5v10h-5zM159 635h4v13h-4zM164 635h4v13h-4zM191 642h4v6h-4zM196 642h5v6h-5zM223 646h4v2h-4zM244 644h5v4h-5zM250 643h4v5h-4zM255 643h5v5h-5zM261 641h4v7h-4zM266 636h4v12h-4zM336 645h4v3h-4zM341 645h4v3h-4zM416 632h4v16h-4zM421 629h5v19h-5zM427 625h4v23h-4zM432 625h4v23h-4zM437 618h5v30h-5zM604 640h4v8h-4zM609 632h4v16h-4zM614 629h5v19h-5zM652 642h4v6h-4zM663 643h4v5h-4zM668 642h4v6h-4zM673 639h5v9h-5zM679 636h4v12h-4zM684 632h4v16h-4zM700 637h4v11h-4zM732 643h5v5h-5zM754 645h4v3h-4zM759 644h4v4h-4zM770 643h4v5h-4zM775 642h5v6h-5zM781 641h4v7h-4zM786 639h4v9h-4zM791 637h5v11h-5zM807 640h5v8h-5zM818 644h4v4h-4zM829 642h4v6h-4zM834 642h4v6h-4zM941 646h5v2h-5zM952 645h4v3h-4zM957 643h5v5h-5zM963 643h4v5h-4zM995 644h4v4h-4zM1000 641h5v7h-5zM1006 636h4v12h-4zM1011 632h4v16h-4zM1016 631h5v17h-5zM1022 629h4v19h-4zM1188 646h4v2h-4zM1209 645h5v3h-5zM1215 646h4v2h-4zM1220 644h4v4h-4zM1225 644h5v4h-5z" fill="#22ab94" shape-rendering="crispEdges"/>
<path d="M121 634h5v14h-5zM127 639h4v9h-4zM132 641h4v7h-4zM169 635h5v13h-5zM175 637h4v11h-4zM180 640h4v8h-4zM185 643h5v5h-5zM202 642h4v6h-4zM207 643h4v5h-4zM212 644h5v4h-5zM218 646h4v2h-4zM228 647h5v1h-5zM271 638h5v10h-5zM277 643h4v5h-4zM282 644h4v4h-4zM287 644h5v4h-5zM293 646h4v2h-4zM346 646h5v2h-5zM352 647h4v1h-4zM357 647h4v1h-4zM443 620h4v28h-4zM448 623h5v25h-5zM454 623h4v25h-4zM459 625h4v23h-4zM464 631h5v17h-5zM470 637h4v11h-4zM475 642h4v6h-4zM620 631h4v17h-4zM625 631h4v17h-4zM630 632h5v16h-5zM636 633h4v15h-4zM641 637h4v11h-4zM646 643h5v5h-5zM657 645h5v3h-5zM689 637h5v11h-5zM695 638h4v10h-4zM705 640h5v8h-5zM711 642h4v6h-4zM716 643h5v5h-5zM722 645h4v3h-4zM727 645h4v3h-4zM738 645h4v3h-4zM743 645h4v3h-4zM748 647h5v1h-5zM764 646h5v2h-5zM797 639h4v9h-4zM802 643h4v5h-4zM813 644h4v4h-4zM823 644h5v4h-5zM947 647h4v1h-4zM968 646h4v2h-4zM973 647h5v1h-5zM1027 629h4v19h-4zM1032 631h5v17h-5zM1038 633h4v15h-4zM1043 633h5v15h-5zM1049 637h4v11h-4zM1054 639h4v9h-4zM1059 645h5v3h-5zM1231 645h4v3h-4z" fill="#ace5dc" shape-rendering="crispEdges"/>
<path d="M-2 647h4v5h-4zM3 647h5v6h-5zM9 647h4v6h-4zM14 647h4v8h-4zM19 647h5v12h-5zM30 647h4v12h-4zM68 647h4v2h-4zM78 647h5v3h-5zM84 647h4v4h-4zM234 647h4v2h-4zM298 647h4v6h-4zM303 647h5v9h-5zM309 647h4v12h-4zM314 647h5v12h-5zM320 647h4v13h-4zM362 647h5v2h-5zM368 647h4v3h-4zM373 647h4v7h-4zM378 647h5v9h-5zM384 647h4v10h-4zM389 647h5v11h-5zM395 647h4v13h-4zM480 647h5v1h-5zM486 647h4v6h-4zM491 647h4v10h-4zM496 647h5v15h-5zM502 647h4v16h-4zM518 647h4v12h-4zM529 647h4v12h-4zM534 647h4v20h-4zM539 647h5v28h-5zM545 647h4v39h-4zM555 647h5v45h-5zM561 647h4v46h-4zM839 647h5v1h-5zM845 647h4v2h-4zM850 647h5v4h-5zM856 647h4v5h-4zM861 647h4v7h-4zM866 647h5v8h-5zM877 647h4v9h-4zM893 647h4v7h-4zM898 647h5v9h-5zM909 647h5v8h-5zM915 647h4v8h-4zM920 647h4v9h-4zM979 647h4v2h-4zM984 647h5v4h-5zM1065 647h4v2h-4zM1070 647h4v3h-4zM1075 647h5v6h-5zM1081 647h4v9h-4zM1086 647h4v11h-4zM1124 647h4v5h-4zM1129 647h4v7h-4zM1134 647h5v8h-5zM1145 647h4v7h-4zM1161 647h4v7h-4zM1166 647h5v7h-5zM1193 647h5v1h-5zM1199 647h4v2h-4zM1236 647h4v2h-4zM1241 647h5v4h-5zM1258 647h4v5h-4zM1263 647h4v5h-4zM1268 647h5v5h-5zM1274 647h4v6h-4zM1279 647h4v8h-4zM1284 647h5v10h-5zM1290 647h4v12h-4z" fill="#ff5252" shape-rendering="crispEdges"/>
<path d="M25 647h4v11h-4zM35 647h5v11h-5zM41 647h4v8h-4zM46 647h4v6h-4zM51 647h5v4h-5zM57 647h4v4h-4zM62 647h5v2h-5zM73 647h4v2h-4zM89 647h4v2h-4zM94 647h5v2h-5zM239 647h4v2h-4zM325 647h4v11h-4zM330 647h5v6h-5zM400 647h4v13h-4zM405 647h5v9h-5zM411 647h4v2h-4zM507 647h4v15h-4zM512 647h5v12h-5zM523 647h5v8h-5zM550 647h4v37h-4zM566 647h4v45h-4zM571 647h5v38h-5zM577 647h4v33h-4zM582 647h5v24h-5zM588 647h4v18h-4zM593 647h4v12h-4zM598 647h5v3h-5zM872 647h4v7h-4zM882 647h5v7h-5zM888 647h4v7h-4zM904 647h4v8h-4zM925 647h5v7h-5zM931 647h4v3h-4zM936 647h4v2h-4zM990 647h4v2h-4zM1091 647h5v11h-5zM1097 647h4v11h-4zM1102 647h4v8h-4zM1107 647h5v7h-5zM1113 647h4v6h-4zM1118 647h5v4h-5zM1140 647h4v6h-4zM1150 647h5v5h-5zM1156 647h4v5h-4zM1172 647h4v5h-4zM1177 647h5v3h-5zM1183 647h4v1h-4zM1204 647h4v1h-4zM1247 647h4v3h-4zM1252 647h5v3h-5zM1295 647h4v11h-4zM1300 647h5v10h-5zM1306 647h4v9h-4zM1311 647h5v7h-5zM1317 647h4v3h-4z" fill="#fccbcd" shape-rendering="crispEdges"/>
<path d="M1.2 656.6L6.1 658.3L11.4 660.7L16.7 665.6L22.1 670.4L27.2 672.4L32.5 675.3L37.4 677.7L43.2 676.5L48.5 675.3L53.9 674.6L59.7 674.8L64.8 674.1L70.1 674.6L75.0 674.6L80.8 675.8L85.9 677.5L91.3 676.5L97.1 676.0L101.9 666.8L107.5 658.3L112.4 651.0L118.2 648.6L123.5 648.1L128.9 650.3L134.5 651.7L139.8 649.8L145.1 646.2L150.5 643.7L155.8 640.1L161.2 635.2L166.3 631.1L171.8 628.4L177.2 626.7L182.5 628.7L187.6 630.4L193.4 628.7L198.8 626.7L204.1 626.0L209.5 626.0L214.8 626.7L219.9 628.4L225.0 628.4L230.8 629.2L236.2 630.9L241.5 630.4L247.3 626.7L252.4 623.4L257.5 621.2L262.9 618.5L268.5 612.4L273.8 612.3L279.2 614.7L284.5 615.8L289.9 615.3L295.2 617.8L300.5 625.0L305.9 630.4L311.2 636.5L316.6 639.4L321.9 642.5L327.2 644.5L332.6 638.9L337.9 632.1L343.3 631.6L348.8 632.1L354.2 632.3L359.5 632.8L364.9 634.8L370.2 637.2L375.5 642.5L380.9 646.2L386.2 649.8L391.6 653.4L396.9 657.8L402.2 660.7L407.6 659.5L411.7 655.9L415.3 645.0L418.5 632.8L423.8 623.6L429.2 616.3L434.5 611.0L439.9 597.6L445.2 590.3L450.5 587.9L455.9 583.1L461.2 579.4L466.6 580.6L471.9 584.3L477.2 588.7L482.6 594.8L487.9 600.6L493.3 607.7L499.3 614.4L504.6 618.3L510.0 620.9L515.3 620.5L520.6 623.6L526.0 621.9L531.3 629.2L536.7 642.5L542.0 659.5L547.3 677.7L552.7 683.8L558.3 703.2L563.6 715.3L568.9 725.5L574.3 728.2L578.6 730.6L585.0 727.5L590.3 726.3L595.6 722.1L601.0 715.3L606.3 703.2L611.7 691.1L617.0 683.3L622.3 680.9L627.7 677.0L633.0 674.8L638.3 672.9L643.7 672.9L649.0 679.4L654.4 677.2L659.7 679.4L665.0 676.5L670.4 673.6L675.7 669.2L681.1 663.2L686.4 656.4L691.7 656.6L697.1 656.6L702.4 653.4L707.8 655.1L713.1 655.4L718.4 655.9L723.8 657.6L729.1 657.6L734.5 654.7L739.8 655.4L745.1 654.6L750.5 655.8L755.8 654.5L760.0 652.9L762.2 652.9L767.5 653.1L772.9 651.6L778.2 649.4L783.5 646.2L788.9 642.0L794.5 636.5L799.8 637.2L805.1 638.4L810.5 635.7L815.8 638.9L821.2 637.7L826.5 637.7L831.8 634.0L836.0 632.3L841.3 638.2L847.9 639.6L853.2 642.5L858.5 645.0L863.9 647.9L869.5 651.0L874.8 653.0L880.1 655.1L885.5 655.4L890.8 656.6L896.2 659.0L901.5 661.9L906.8 663.6L912.2 665.6L917.5 667.5L922.9 669.2L928.2 668.7L933.5 666.1L938.9 666.1L944.2 663.6L949.6 663.2L954.9 661.5L960.2 658.3L965.6 657.1L970.9 658.3L976.3 659.0L981.6 661.5L986.9 664.9L992.3 663.2L997.6 658.3L1003.0 654.2L1008.3 644.5L1013.6 637.7L1018.8 632.2L1024.1 624.2L1029.5 621.4L1034.8 618.7L1040.1 618.7L1045.5 615.3L1050.8 615.8L1056.2 617.5L1061.5 622.6L1066.8 625.0L1072.2 627.5L1077.5 632.8L1082.9 637.7L1088.2 641.3L1093.5 643.3L1098.9 645.4L1104.5 645.4L1109.8 646.2L1115.1 645.4L1120.5 644.2L1125.8 646.2L1131.2 651.0L1136.5 653.4L1141.8 653.4L1147.2 655.4L1152.5 655.9L1157.9 655.9L1163.2 657.6L1168.5 660.0L1173.9 659.0L1179.2 658.3L1184.6 656.4L1189.9 655.4L1195.2 655.9L1200.6 656.6L1205.9 655.9L1211.3 653.9L1216.6 653.4L1221.9 652.2L1227.3 651.5L1232.6 651.8L1238.0 654.7L1243.3 657.6L1248.6 657.6L1255.1 657.6L1260.5 661.1L1265.8 662.3L1271.3 663.9L1276.6 666.1L1281.9 669.7L1287.2 673.9L1292.7 678.0L1298.0 680.5L1303.3 681.9L1308.6 682.5L1314.1 681.4L1319.4 678.9" fill="none" stroke="#2196f3" stroke-width="1.2" stroke-linejoin="round"/>
<path d="M1.2 652.2L6.1 654.2L11.4 655.9L16.7 658.3L22.1 660.7L27.2 663.2L32.5 665.6L37.4 668.0L43.2 669.7L48.5 670.9L53.9 671.7L59.7 672.4L64.8 672.9L70.1 673.3L75.0 673.6L80.8 674.1L85.9 674.6L91.3 675.0L97.1 675.0L101.9 673.6L107.5 670.4L112.4 666.8L118.2 663.2L123.5 660.0L128.9 658.3L134.5 657.1L139.8 655.4L145.1 653.4L150.5 651.5L155.8 649.8L161.2 646.9L166.3 643.7L171.8 640.1L177.2 637.7L182.5 635.7L187.6 634.5L193.4 633.3L198.8 632.1L204.1 630.9L209.5 630.4L214.8 629.7L219.9 629.2L225.0 629.2L230.8 629.2L236.2 629.7L241.5 629.9L247.3 629.2L252.4 628.0L257.5 626.8L262.9 625.0L268.5 622.6L273.8 620.2L279.2 619.0L284.5 618.3L289.9 617.8L295.2 617.8L300.5 619.5L305.9 621.9L311.2 625.0L316.6 628.0L321.9 630.4L327.2 632.8L332.6 634.0L337.9 633.5L343.3 633.3L348.8 632.8L354.2 632.8L359.5 632.8L364.9 633.5L370.2 634.8L375.5 636.5L380.9 638.2L386.2 640.6L391.6 643.3L396.9 646.2L402.2 649.1L407.6 651.0L412.9 651.5L418.5 648.6L423.8 643.7L429.2 638.9L434.5 633.5L439.9 626.0L445.2 618.3L450.5 612.2L455.9 606.1L461.2 601.3L466.6 597.1L471.9 594.7L477.2 593.5L482.6 593.1L487.9 594.5L493.3 597.3L499.3 601.2L504.6 605.2L510.0 608.8L515.3 611.8L520.6 613.9L526.0 615.8L531.3 618.3L536.7 624.3L542.0 632.8L547.3 642.5L552.7 651.0L558.3 663.2L563.6 674.1L568.9 685.0L574.3 693.5L579.6 700.8L585.0 705.6L590.3 709.3L595.6 711.7L601.0 712.2L606.3 710.5L611.7 706.8L617.0 702.0L622.3 697.9L627.7 693.5L633.0 689.9L638.3 686.7L643.7 683.8L649.0 682.6L654.4 681.4L659.7 680.9L665.0 679.7L670.4 678.4L675.7 676.0L681.1 672.9L686.4 669.2L691.7 666.8L697.1 664.4L702.4 662.4L707.8 661.2L713.1 660.0L718.4 659.0L723.8 658.8L729.1 658.3L734.5 657.6L739.8 657.1L745.1 656.7L750.5 656.5L755.8 656.1L760.0 655.6L762.2 655.4L767.5 655.0L772.9 654.1L778.2 652.7L783.5 651.0L788.9 648.6L794.5 645.7L799.8 643.7L805.1 642.5L810.5 641.3L815.8 640.6L821.2 640.1L826.5 639.4L831.8 638.2L837.2 637.2L842.5 637.7L847.9 638.2L853.2 638.9L858.5 640.6L863.9 642.5L869.5 644.5L874.8 646.9L880.1 648.6L885.5 650.3L890.8 651.7L896.2 653.4L901.5 655.4L906.8 657.6L912.2 659.5L917.5 661.5L922.9 662.4L928.2 663.6L933.5 663.9L938.9 663.9L944.2 663.6L949.6 663.6L954.9 663.2L960.2 662.4L965.6 661.5L970.9 660.7L976.3 660.2L981.6 660.2L986.9 661.2L992.3 661.9L997.6 661.2L1003.0 659.6L1008.3 656.7L1013.6 653.5L1018.8 649.7L1024.1 643.7L1029.5 638.8L1034.8 634.7L1040.1 631.1L1045.5 628.4L1050.8 626.3L1056.2 624.8L1061.5 624.3L1066.8 624.3L1072.2 625.0L1077.5 626.7L1082.9 628.7L1088.2 631.1L1093.5 633.5L1098.9 636.0L1104.5 637.7L1109.8 639.4L1115.1 640.6L1120.5 641.6L1125.8 642.5L1131.2 644.2L1136.5 646.2L1141.8 647.4L1147.2 649.1L1152.5 650.5L1157.9 651.5L1163.2 652.7L1168.5 654.2L1173.9 655.4L1179.2 655.9L1184.6 656.4L1189.9 655.9L1195.2 656.1L1200.6 656.4L1205.9 656.1L1211.3 655.9L1216.6 655.4L1221.9 654.7L1227.3 653.9L1232.6 653.4L1238.0 653.9L1243.3 654.6L1248.6 655.3L1255.1 656.0L1260.5 657.0L1265.8 658.1L1271.3 659.3L1276.6 660.9L1281.9 663.4L1287.2 666.1L1292.7 668.9L1298.0 671.7L1303.3 673.9L1308.6 675.2L1314.1 676.1L1319.4 676.6" fill="none" stroke="#ff6d00" stroke-width="1.2" stroke-linejoin="round"/>
</g>
<path d="M2 373.5H1630M2 560.5H1630" stroke="#e0e3eb" stroke-width="1" fill="none" shape-rendering="crispEdges"/>
<g font-family="Liberation Sans, sans-serif" opacity="0.999" text-rendering="geometricPrecision">
<clipPath id="ax1"><rect x="1549" y="2" width="81" height="371"/></clipPath>
<clipPath id="ax2"><rect x="1549" y="374" width="81" height="186"/></clipPath>
<clipPath id="ax3"><rect x="1549" y="561" width="81" height="186"/></clipPath>
<g clip-path="url(#ax1)">
<text x="1559" y="50.0" font-size="15.6" fill="#131722" textLength="53.5" lengthAdjust="spacingAndGlyphs">0.97000</text>
<text x="1559" y="105.1" font-size="15.6" fill="#131722" textLength="53.5" lengthAdjust="spacingAndGlyphs">0.96000</text>
<text x="1559" y="160.0" font-size="15.6" fill="#131722" textLength="53.5" lengthAdjust="spacingAndGlyphs">0.95000</text>
<text x="1559" y="214.9" font-size="15.6" fill="#131722" textLength="53.5" lengthAdjust="spacingAndGlyphs">0.94000</text>
</g>
<g clip-path="url(#ax2)">
<text x="1559" y="379.9" font-size="15.6" fill="#131722" textLength="37.3" lengthAdjust="spacingAndGlyphs">80.00</text>
<text x="1559" y="444.0" font-size="15.6" fill="#131722" textLength="37.3" lengthAdjust="spacingAndGlyphs">60.00</text>
</g>
<g clip-path="url(#ax3)">
<text x="1559" y="589.0" font-size="15.6" fill="#131722" textLength="53.5" lengthAdjust="spacingAndGlyphs">0.00500</text>
<text x="1559.5" y="715.9" font-size="15.6" fill="#131722" textLength="60" lengthAdjust="spacingAndGlyphs">−0.00500</text>
</g>
<path d="M1549 216H1618Q1620 216 1620 218V235Q1620 237 1618 237H1549Z" fill="#2196f3"/>
<text x="1559" y="231.7" font-size="15.6" fill="#ffffff" textLength="53.5" lengthAdjust="spacingAndGlyphs" stroke="#ffffff" stroke-width="0.35">0.93697</text>
<path d="M1549 252H1618Q1620 252 1620 254V271Q1620 273 1618 273H1549Z" fill="#ff6d00"/>
<text x="1559" y="267.7" font-size="15.6" fill="#ffffff" textLength="53.5" lengthAdjust="spacingAndGlyphs" stroke="#ffffff" stroke-width="0.35">0.92900</text>
<path d="M1549 273H1618Q1620 273 1620 275V292Q1620 294 1618 294H1549Z" fill="#f23645"/>
<text x="1559" y="288.7" font-size="15.6" fill="#ffffff" textLength="53.5" lengthAdjust="spacingAndGlyphs" stroke="#ffffff" stroke-width="0.35">0.92641</text>
<path d="M1549 303H1618Q1620 303 1620 305V322Q1620 324 1618 324H1549Z" fill="#2196f3"/>
<text x="1559" y="318.7" font-size="15.6" fill="#ffffff" textLength="53.5" lengthAdjust="spacingAndGlyphs" stroke="#ffffff" stroke-width="0.35">0.92103</text>
<path d="M1549 487H1601.5Q1603.5 487 1603.5 489V506Q1603.5 508 1601.5 508H1549Z" fill="#9f56c4"/>
<text x="1559" y="502.7" font-size="15.6" fill="#ffffff" textLength="37.3" lengthAdjust="spacingAndGlyphs" stroke="#ffffff" stroke-width="0.35">41.33</text>
<path d="M1549 639H1626Q1628 639 1628 641V658Q1628 660 1626 660H1549Z" fill="#fccbcd"/>
<text x="1559.5" y="654.7" font-size="15.6" fill="#131722" textLength="60" lengthAdjust="spacingAndGlyphs">−0.00021</text>
<path d="M1549 666H1626Q1628 666 1628 668V685Q1628 687 1626 687H1549Z" fill="#ff6d00"/>
<text x="1559.5" y="681.7" font-size="15.6" fill="#ffffff" textLength="60" lengthAdjust="spacingAndGlyphs" stroke="#ffffff" stroke-width="0.35">−0.00235</text>
<path d="M1549 688H1626Q1628 688 1628 690V707Q1628 709 1626 709H1549Z" fill="#2196f3"/>
<text x="1559.5" y="703.7" font-size="15.6" fill="#ffffff" textLength="60" lengthAdjust="spacingAndGlyphs" stroke="#ffffff" stroke-width="0.35">−0.00256</text>
<text x="46.9" y="769.8" font-size="15.6" fill="#131722" textLength="23.7" lengthAdjust="spacingAndGlyphs">Dec</text>
<text x="160.0" y="769.8" font-size="15.6" fill="#131722" font-weight="bold" textLength="33.7" lengthAdjust="spacingAndGlyphs">2025</text>
<text x="287.9" y="769.8" font-size="15.6" fill="#131722" textLength="23.7" lengthAdjust="spacingAndGlyphs">Feb</text>
<text x="395.9" y="769.8" font-size="15.6" fill="#131722" textLength="23.7" lengthAdjust="spacingAndGlyphs">Mar</text>
<text x="508.4" y="769.8" font-size="15.6" fill="#131722" textLength="22.7" lengthAdjust="spacingAndGlyphs">Apr</text>
<text x="624.6" y="769.8" font-size="15.6" fill="#131722" textLength="26.3" lengthAdjust="spacingAndGlyphs">May</text>
<text x="744.3" y="769.8" font-size="15.6" fill="#131722" textLength="23" lengthAdjust="spacingAndGlyphs">Jun</text>
<text x="859.6" y="769.8" font-size="15.6" fill="#131722" textLength="18.3" lengthAdjust="spacingAndGlyphs">Jul</text>
<text x="979.6" y="769.8" font-size="15.6" fill="#131722" textLength="24.3" lengthAdjust="spacingAndGlyphs">Aug</text>
<text x="1092.1" y="769.8" font-size="15.6" fill="#131722" textLength="23.3" lengthAdjust="spacingAndGlyphs">Sep</text>
<text x="1210.5" y="769.8" font-size="15.6" fill="#131722" textLength="22.7" lengthAdjust="spacingAndGlyphs">Oct</text>
<text x="1333.6" y="769.8" font-size="15.6" fill="#131722" textLength="24.3" lengthAdjust="spacingAndGlyphs">Nov</text>
<text x="1495.0" y="769.8" font-size="15.6" fill="#131722" textLength="23.7" lengthAdjust="spacingAndGlyphs">Dec</text>
<text x="11.1" y="25.9" font-size="15.6" fill="#131722" textLength="60" lengthAdjust="spacingAndGlyphs">EUR/CHF</text>
<text x="76.2" y="25.9" font-size="15.6" fill="#131722" textLength="34.3" lengthAdjust="spacingAndGlyphs">Spot,</text>
<text x="116.0" y="25.9" font-size="15.6" fill="#131722" textLength="16.6" lengthAdjust="spacingAndGlyphs">1D</text>
<text x="142.5" y="25.9" font-size="15.6" fill="#131722" textLength="9" lengthAdjust="spacingAndGlyphs">O</text>
<text x="152.6" y="25.9" font-size="15.6" fill="#f23645" textLength="51.8" lengthAdjust="spacingAndGlyphs">0.92707</text>
<text x="214.2" y="25.9" font-size="15.6" fill="#131722" textLength="8.5" lengthAdjust="spacingAndGlyphs">H</text>
<text x="224.3" y="25.9" font-size="15.6" fill="#f23645" textLength="51.8" lengthAdjust="spacingAndGlyphs">0.92718</text>
<text x="286.6" y="25.9" font-size="15.6" fill="#131722" textLength="6.5" lengthAdjust="spacingAndGlyphs">L</text>
<text x="294.3" y="25.9" font-size="15.6" fill="#f23645" textLength="51.4" lengthAdjust="spacingAndGlyphs">0.92524</text>
<text x="355.4" y="25.9" font-size="15.6" fill="#131722" textLength="7.5" lengthAdjust="spacingAndGlyphs">C</text>
<text x="363.6" y="25.9" font-size="15.6" fill="#f23645" textLength="51.5" lengthAdjust="spacingAndGlyphs">0.92641</text>
<text x="426.5" y="25.9" font-size="15.6" fill="#f23645" textLength="58.5" lengthAdjust="spacingAndGlyphs">+0.00122</text>
<text x="491.4" y="25.9" font-size="15.6" fill="#f23645" textLength="55.5" lengthAdjust="spacingAndGlyphs">(+0.13%)</text>
<text x="11.1" y="46.9" font-size="15.6" fill="#131722" textLength="17" lengthAdjust="spacingAndGlyphs">BB</text>
<text x="33.4" y="46.9" font-size="15.6" fill="#131722" textLength="26" lengthAdjust="spacingAndGlyphs">(20,</text>
<text x="63.8" y="46.9" font-size="15.6" fill="#131722" textLength="12.6" lengthAdjust="spacingAndGlyphs">2)</text>
<text x="86.4" y="46.9" font-size="15.6" fill="#ff6d00" textLength="51.8" lengthAdjust="spacingAndGlyphs">0.92900</text>
<text x="148" y="46.9" font-size="15.6" fill="#2196f3" textLength="51.5" lengthAdjust="spacingAndGlyphs">0.93697</text>
<text x="209.9" y="46.9" font-size="15.6" fill="#2196f3" textLength="51.5" lengthAdjust="spacingAndGlyphs">0.92103</text>
<text x="10.9" y="399.0" font-size="15.6" fill="#131722" textLength="51.5" lengthAdjust="spacingAndGlyphs">RSI (14)</text>
<text x="71.3" y="399.0" font-size="15.6" fill="#9f56c4" textLength="36.8" lengthAdjust="spacingAndGlyphs">41.33</text>
<text x="10.2" y="586.0" font-size="15.6" fill="#131722" textLength="158" lengthAdjust="spacingAndGlyphs">MACD (12, 26, close, 9)</text>
<text x="176.6" y="586.0" font-size="15.6" fill="#fccbcd" textLength="59.6" lengthAdjust="spacingAndGlyphs">−0.00021</text>
<text x="246.0" y="586.0" font-size="15.6" fill="#2196f3" textLength="60.8" lengthAdjust="spacingAndGlyphs">−0.00256</text>
<text x="315.8" y="586.0" font-size="15.6" fill="#ff6d00" textLength="60.3" lengthAdjust="spacingAndGlyphs">−0.00235</text>
</g>
<path d="M0 0H1632V783H0Z M1 2V781H1630V2Z" fill="#eef0f5" fill-rule="evenodd"/>
<rect x="1" y="2" width="1" height="779" fill="#eef0f5" fill-opacity="0.6"/>
</svg>
</body></html>
